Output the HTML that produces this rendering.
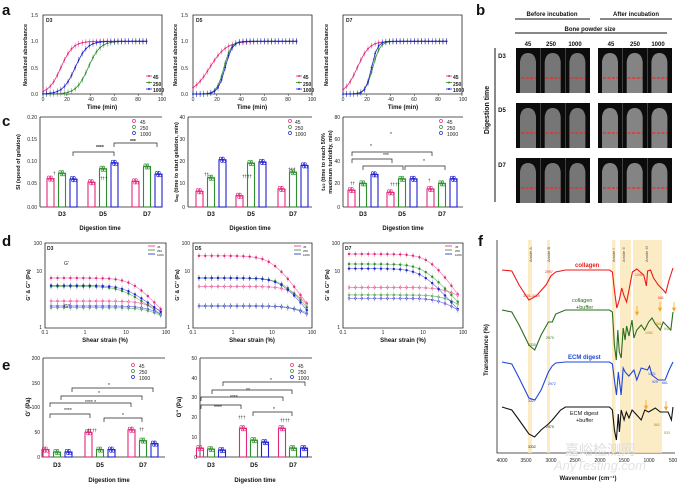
<!DOCTYPE html>
<html><head><meta charset="utf-8"><style>
html,body{margin:0;padding:0;background:#fff}
svg{display:block;font-family:"Liberation Sans","Noto Sans CJK SC",sans-serif}
.t{font-size:5px;fill:#222}
.ax{font-size:6px;font-weight:bold;fill:#111}
.L{font-size:15px;font-weight:bold;fill:#111}
</style></head><body>
<svg id="s" width="680" height="489" viewBox="0 0 680 489" xmlns="http://www.w3.org/2000/svg">
<g id="g"></g>
<text class="L" x="2" y="15">a</text>
<text class="L" x="476" y="15">b</text>
<text class="L" x="2" y="126">c</text>
<text class="L" x="2" y="246">d</text>
<text class="L" x="2" y="370">e</text>
<text class="L" x="478" y="246">f</text>

<g class="t">
<text x="46" y="22" font-weight="bold">D3</text><text x="196" y="22" font-weight="bold">D5</text><text x="346" y="22" font-weight="bold">D7</text>
<text x="38" y="17" text-anchor="end">1.5</text><text x="38" y="43" text-anchor="end">1.0</text><text x="38" y="70" text-anchor="end">0.5</text><text x="38" y="96" text-anchor="end">0.0</text>
<text x="188" y="17" text-anchor="end">1.5</text><text x="188" y="43" text-anchor="end">1.0</text><text x="188" y="70" text-anchor="end">0.5</text><text x="188" y="96" text-anchor="end">0.0</text>
<text x="43" y="101" text-anchor="middle">0</text><text x="67" y="101" text-anchor="middle">20</text><text x="91" y="101" text-anchor="middle">40</text><text x="114" y="101" text-anchor="middle">60</text><text x="138" y="101" text-anchor="middle">80</text><text x="162" y="101" text-anchor="middle">100</text>
<text x="193" y="101" text-anchor="middle">0</text><text x="217" y="101" text-anchor="middle">20</text><text x="241" y="101" text-anchor="middle">40</text><text x="264" y="101" text-anchor="middle">60</text><text x="288" y="101" text-anchor="middle">80</text><text x="312" y="101" text-anchor="middle">100</text>
<text x="343" y="101" text-anchor="middle">0</text><text x="367" y="101" text-anchor="middle">20</text><text x="391" y="101" text-anchor="middle">40</text><text x="414" y="101" text-anchor="middle">60</text><text x="438" y="101" text-anchor="middle">80</text><text x="463" y="101" text-anchor="middle">100</text>
</g>
<g class="ax">
<text x="102" y="109" text-anchor="middle">Time (min)</text><text x="252" y="109" text-anchor="middle">Time (min)</text><text x="403" y="109" text-anchor="middle">Time (min)</text>
<text transform="translate(27,55) rotate(-90)" text-anchor="middle" font-size="5.5">Normalized absorbance</text>
<text transform="translate(177,55) rotate(-90)" text-anchor="middle" font-size="5.5">Normalized absorbance</text>
<text transform="translate(328,55) rotate(-90)" text-anchor="middle" font-size="5.5">Normalized absorbance</text>
</g>
<g class="t" font-weight="bold">
<text x="153" y="79">45</text><text x="153" y="86">250</text><text x="153" y="92">1000</text>
<text x="303" y="79">45</text><text x="303" y="86">250</text><text x="303" y="92">1000</text>
<text x="453" y="79">45</text><text x="453" y="86">250</text><text x="453" y="92">1000</text>
</g>

<g class="ax" font-size="6.5">
<text x="552" y="16" text-anchor="middle">Before incubation</text>
<text x="636" y="16" text-anchor="middle">After incubation</text>
<text x="590" y="31" text-anchor="middle">Bone powder size</text>
<text x="528" y="46" text-anchor="middle">45</text><text x="551" y="46" text-anchor="middle">250</text><text x="575" y="46" text-anchor="middle">1000</text>
<text x="611" y="46" text-anchor="middle">45</text><text x="635" y="46" text-anchor="middle">250</text><text x="658" y="46" text-anchor="middle">1000</text>
<text x="502" y="58" text-anchor="middle">D3</text><text x="502" y="112" text-anchor="middle">D5</text><text x="502" y="167" text-anchor="middle">D7</text>
<text transform="translate(489,110) rotate(-90)" text-anchor="middle" font-size="7">Digestion time</text>
</g>
<g stroke="#111" stroke-width="1">
<line x1="515" y1="19" x2="590" y2="19"/><line x1="600" y1="19" x2="672" y2="19"/>
<line x1="515" y1="33" x2="667" y2="33"/><line x1="495" y1="48" x2="495" y2="202"/>
</g>

<g class="t">
<text x="37" y="119" text-anchor="end">0.20</text><text x="37" y="141" text-anchor="end">0.15</text><text x="37" y="163" text-anchor="end">0.10</text><text x="37" y="185" text-anchor="end">0.05</text><text x="37" y="209" text-anchor="end">0.00</text>
<text x="185" y="119" text-anchor="end">40</text><text x="185" y="141" text-anchor="end">30</text><text x="185" y="163" text-anchor="end">20</text><text x="185" y="185" text-anchor="end">10</text><text x="185" y="209" text-anchor="end">0</text>
<text x="340" y="119" text-anchor="end">80</text><text x="340" y="141" text-anchor="end">60</text><text x="340" y="163" text-anchor="end">40</text><text x="340" y="185" text-anchor="end">20</text><text x="340" y="209" text-anchor="end">0</text>
</g>
<g class="ax">
<text x="62" y="216" text-anchor="middle">D3</text><text x="103" y="216" text-anchor="middle">D5</text><text x="147" y="216" text-anchor="middle">D7</text>
<text x="211" y="216" text-anchor="middle">D3</text><text x="251" y="216" text-anchor="middle">D5</text><text x="293" y="216" text-anchor="middle">D7</text>
<text x="363" y="216" text-anchor="middle">D3</text><text x="402" y="216" text-anchor="middle">D5</text><text x="442" y="216" text-anchor="middle">D7</text>
<text x="100" y="230" text-anchor="middle">Digestion time</text><text x="250" y="230" text-anchor="middle">Digestion time</text><text x="403" y="230" text-anchor="middle">Digestion time</text>
<text transform="translate(20,162) rotate(-90)" text-anchor="middle" font-size="5.5">SI (speed of gelation)</text>
<text transform="translate(178,162) rotate(-90)" text-anchor="middle" font-size="5.5">t<tspan font-size="4">lag</tspan> (time to start gelation, min)</text>
<text transform="translate(325,162) rotate(-90)" text-anchor="middle" font-size="5.5">t<tspan font-size="4">1/2</tspan> (time to reach 50%</text>
<text transform="translate(332,162) rotate(-90)" text-anchor="middle" font-size="5.5">maximum turbidity, min)</text>
</g>
<g class="t">
<text x="140" y="124">45</text><text x="140" y="130">250</text><text x="140" y="136">1000</text>
<text x="295" y="124">45</text><text x="295" y="130">250</text><text x="295" y="136">1000</text>
<text x="447" y="124">45</text><text x="447" y="130">250</text><text x="447" y="136">1000</text>
<text x="96" y="149" font-weight="bold">****</text><text x="130" y="143" font-weight="bold">***</text>
<text x="390" y="136">*</text><text x="370" y="148">*</text><text x="383" y="157">***</text><text x="423" y="163">*</text>
<text x="100" y="180" font-size="4.5">†††</text><text x="53" y="175" font-size="4.5">†</text>
<text x="204" y="176" font-size="4.5">††</text><text x="242" y="178" font-size="4.5">††††</text><text x="288" y="171" font-size="4.5">†††</text>
<text x="350" y="185" font-size="4.5">††</text><text x="390" y="186" font-size="4.5">††††</text><text x="428" y="182" font-size="4.5">†</text>
</g>
<g stroke="#222" stroke-width="0.7" fill="none">
<path d="M73 156 V152 H114 V156"/><path d="M114 147 V143 H157 V147"/>
<path d="M352 156 V152 H432 V156"/><path d="M352 163 V159 H392 V163"/><path d="M363 170 V166 H403 V170"/><path d="M405 170 V166 H445 V170"/>
</g>

<g class="t">
<text x="42" y="245" text-anchor="end">100</text><text x="42" y="273" text-anchor="end">10</text><text x="42" y="329" text-anchor="end">1</text>
<text x="190" y="245" text-anchor="end">100</text><text x="190" y="273" text-anchor="end">10</text><text x="190" y="329" text-anchor="end">1</text>
<text x="340" y="245" text-anchor="end">100</text><text x="340" y="273" text-anchor="end">10</text><text x="340" y="329" text-anchor="end">1</text>
<text x="45" y="334" text-anchor="middle">0.1</text><text x="85" y="334" text-anchor="middle">1</text><text x="126" y="334" text-anchor="middle">10</text><text x="166" y="334" text-anchor="middle">100</text>
<text x="193" y="334" text-anchor="middle">0.1</text><text x="233" y="334" text-anchor="middle">1</text><text x="272" y="334" text-anchor="middle">10</text><text x="312" y="334" text-anchor="middle">100</text>
<text x="343" y="334" text-anchor="middle">0.1</text><text x="383" y="334" text-anchor="middle">1</text><text x="423" y="334" text-anchor="middle">10</text><text x="463" y="334" text-anchor="middle">100</text>
<text x="47" y="250" font-weight="bold">D3</text><text x="195" y="250" font-weight="bold">D5</text><text x="345" y="250" font-weight="bold">D7</text>
<text x="64" y="265">G'</text><text x="64" y="308">G''</text>
<text x="157" y="248" font-size="3">45</text><text x="157" y="252" font-size="3">250</text><text x="157" y="256" font-size="3">1000</text>
<text x="303" y="248" font-size="3">45</text><text x="303" y="252" font-size="3">250</text><text x="303" y="256" font-size="3">1000</text>
<text x="455" y="248" font-size="3">45</text><text x="455" y="252" font-size="3">250</text><text x="455" y="256" font-size="3">1000</text>
</g>
<g class="ax">
<text x="105" y="342" text-anchor="middle">Shear strain (%)</text><text x="252" y="342" text-anchor="middle">Shear strain (%)</text><text x="403" y="342" text-anchor="middle">Shear strain (%)</text>
<text transform="translate(30,285) rotate(-90)" text-anchor="middle" font-size="5.5">G' &amp; G'' (Pa)</text>
<text transform="translate(179,285) rotate(-90)" text-anchor="middle" font-size="5.5">G' &amp; G'' (Pa)</text>
<text transform="translate(329,285) rotate(-90)" text-anchor="middle" font-size="5.5">G' &amp; G'' (Pa)</text>
</g>

<g class="t">
<text x="40" y="360" text-anchor="end">200</text><text x="40" y="385" text-anchor="end">150</text><text x="40" y="409" text-anchor="end">100</text><text x="40" y="434" text-anchor="end">50</text><text x="40" y="459" text-anchor="end">0</text>
<text x="197" y="360" text-anchor="end">50</text><text x="197" y="380" text-anchor="end">40</text><text x="197" y="399" text-anchor="end">30</text><text x="197" y="419" text-anchor="end">20</text><text x="197" y="439" text-anchor="end">10</text><text x="197" y="459" text-anchor="end">0</text>
<text x="139" y="368">45</text><text x="139" y="374">250</text><text x="139" y="380">1000</text>
<text x="298" y="368">45</text><text x="298" y="374">250</text><text x="298" y="380">1000</text>
<text x="108" y="387">*</text><text x="98" y="395">*</text><text x="85" y="404">**** *</text><text x="64" y="412">****</text><text x="122" y="417">*</text>
<text x="270" y="382">*</text><text x="246" y="392">**</text><text x="230" y="399">****</text><text x="214" y="409">****</text><text x="273" y="411">*</text>
<text x="87" y="432" font-size="4.5">††††</text><text x="139" y="431" font-size="4.5">††</text>
<text x="238" y="419" font-size="4.5">†††</text><text x="280" y="422" font-size="4.5">††††</text>
</g>
<g stroke="#222" stroke-width="0.7" fill="none">
<path d="M72 392 V388 H153 V392"/><path d="M61 400 V396 H142 V400"/><path d="M50 407 V403 H131 V407"/><path d="M50 418 V414 H90 V418"/><path d="M104 422 V418 H142 V422"/>
<path d="M223 386 V382 H305 V386"/><path d="M212 394 V390 H292 V394"/><path d="M201 401 V397 H283 V401"/><path d="M201 409 V405 H241 V409"/><path d="M253 416 V412 H292 V416"/>
</g>
<g class="ax">
<text x="57" y="467" text-anchor="middle">D3</text><text x="100" y="467" text-anchor="middle">D5</text><text x="143" y="467" text-anchor="middle">D7</text>
<text x="211" y="467" text-anchor="middle">D3</text><text x="254" y="467" text-anchor="middle">D5</text><text x="293" y="467" text-anchor="middle">D7</text>
<text x="109" y="482" text-anchor="middle">Digestion time</text><text x="255" y="482" text-anchor="middle">Digestion time</text>
<text transform="translate(30,407) rotate(-90)" text-anchor="middle" font-size="6">G' (Pa)</text>
<text transform="translate(181,407) rotate(-90)" text-anchor="middle" font-size="6">G'' (Pa)</text>
</g>

<g class="t">
<text x="502" y="462" text-anchor="middle">4000</text><text x="526" y="462" text-anchor="middle">3500</text><text x="551" y="462" text-anchor="middle">3000</text><text x="575" y="462" text-anchor="middle">2500</text><text x="600" y="462" text-anchor="middle">2000</text><text x="624" y="462" text-anchor="middle">1500</text><text x="649" y="462" text-anchor="middle">1000</text><text x="673" y="462" text-anchor="middle">500</text>
</g>
<text class="ax" x="588" y="480" text-anchor="middle">Wavenumber (cm⁻¹)</text>
<text class="ax" transform="translate(488,350) rotate(-90)" text-anchor="middle" font-size="5.5">Transmittance (%)</text>
<g font-size="4" fill="#555">
<text transform="translate(532,262) rotate(-90)">Amide A</text><text transform="translate(550,262) rotate(-90)">Amide B</text>
<text transform="translate(615,262) rotate(-90)">Amide I</text><text transform="translate(625,262) rotate(-90)">Amide II</text><text transform="translate(648,262) rotate(-90)">Amide III</text>
</g>
<g font-weight="bold" font-size="6">
<text x="575" y="267" fill="#ee1c1c">collagen</text>
<text x="572" y="302" fill="#2a6e1c" font-weight="normal" font-size="5.5">collagen</text><text x="576" y="309" fill="#2a6e1c" font-weight="normal" font-size="5.5">+buffer</text>
<text x="568" y="359" fill="#1f48d8">ECM digest</text>
<text x="570" y="415" fill="#111" font-weight="normal" font-size="5.5">ECM digest</text><text x="576" y="422" fill="#111" font-weight="normal" font-size="5.5">+buffer</text>
</g>
<g font-size="3.5">
<text x="523" y="297" fill="#ee1c1c">3401-3419</text><text x="545" y="273" fill="#ee1c1c">2997</text>
<text x="528" y="346" fill="#2a6e1c">3330</text><text x="546" y="339" fill="#2a6e1c">2970</text>
<text x="528" y="402" fill="#1f48d8">3327</text><text x="548" y="385" fill="#1f48d8">2972</text>
<text x="528" y="448" fill="#222">3332</text><text x="546" y="428" fill="#222">2970</text>
<text x="658" y="299" fill="#ee1c1c">661</text><text x="635" y="276" fill="#ee1c1c">1240</text>
<text x="645" y="334" fill="#b8860b">1082</text><text x="656" y="325" fill="#b8860b">661</text><text x="664" y="330" fill="#b8860b">545</text>
<text x="648" y="375" fill="#1f48d8">1021</text><text x="652" y="383" fill="#1f48d8">929</text><text x="662" y="384" fill="#1f48d8">661</text>
<text x="654" y="426" fill="#b8860b">862</text><text x="664" y="434" fill="#b8860b">533</text>
</g>
<text x="600" y="455" font-size="14" fill="#ddd" text-anchor="middle">嘉峪检测网</text>
<text x="600" y="470" font-size="13" fill="#e4e4e4" font-style="italic" text-anchor="middle">AnyTesting.com</text>
</svg>
<script>
var G=document.getElementById('g'),NS='http://www.w3.org/2000/svg';
function E(t,a,p){var e=document.createElementNS(NS,t);for(var k in a)e.setAttribute(k,a[k]);(p||G).appendChild(e);return e;}
var P='#e3287c',GR='#2f8f2f',B='#2020d0';
function box(x0,y0,x1,y1){E('path',{d:'M'+x0+' '+y0+'V'+y1+'H'+x1+'V'+y0+'Z',fill:'none',stroke:'#222','stroke-width':0.8});}
[[43],[193],[343]].forEach(function(v,i){
 var x0=v[0],x1=x0+119,y0=94,y1=15;box(x0,y1,x1,y0);
 for(var k=0;k<=5;k++)E('line',{x1:x0+k*23.8,y1:y0,x2:x0+k*23.8,y2:y0+2,stroke:'#222','stroke-width':0.5});
 var mids=[[15,38,27],[14,26,27],[12,25,24]][i],ks=[[5,5,5],[7,3,3],[5,3,2.5]][i];
 [P,GR,B].forEach(function(c,j){
  var d='';for(var t=0;t<=88;t+=3){var y=1/(1+Math.exp(-(t-mids[j])/ks[j]));var X=x0+t*1.19,Y=y0-y*52.7;d+=(t?'L':'M')+X.toFixed(1)+' '+Y.toFixed(1);
   E('line',{x1:X,y1:Y-3,x2:X,y2:Y+3,stroke:c,'stroke-width':0.4});E('circle',{cx:X,cy:Y,r:0.9,fill:c});}
  E('path',{d:d,fill:'none',stroke:c,'stroke-width':0.8});
  E('line',{x1:x1-16,y1:76+j*6.5,x2:x1-10,y2:76+j*6.5,stroke:c,'stroke-width':0.8});E('circle',{cx:x1-13,cy:76+j*6.5,r:1,fill:c});
 });
});
[516,598].forEach(function(gx,gi){[48,103,158].forEach(function(gy,ri){
 E('rect',{x:gx,y:gy,width:74,height:45,fill:'#0c0c0c'},G);
 for(var k=0;k<3;k++){var cx=gx+12+k*24.7;
  if(k)E('line',{x1:gx+k*24.7,y1:gy,x2:gx+k*24.7,y2:gy+45,stroke:'#777','stroke-width':0.5});
  E('path',{d:'M'+(cx-8)+' '+(gy+45)+'V'+(gy+14)+'Q'+(cx-7)+' '+(gy+5)+' '+cx+' '+(gy+5)+'Q'+(cx+7)+' '+(gy+5)+' '+(cx+8)+' '+(gy+14)+'V'+(gy+45)+'Z',fill:gi?'#9a9a9a':'#8a8a8a',opacity:0.85});
  E('line',{x1:cx-7,y1:gy+30,x2:cx+8,y2:gy+30,stroke:'#ff2020','stroke-width':1.2,'stroke-dasharray':'3 1.5'});
 }});});
function bars(x0,x1,y0,y1,max,cent,sp,vals){
 E('line',{x1:x0,y1:y1,x2:x0,y2:y0,stroke:'#222','stroke-width':0.8});E('line',{x1:x0,y1:y0,x2:x1,y2:y0,stroke:'#222','stroke-width':0.8});
 E('line',{x1:x0,y1:y1,x2:x1,y2:y1,stroke:'#222','stroke-width':0.8});
 cent.forEach(function(c,g){[P,GR,B].forEach(function(col,j){
  var v=vals[g][j],h=v/max*(y0-y1),x=c+(j-1)*sp;
  E('rect',{x:x-3.5,y:y0-h,width:7,height:h,fill:'none',stroke:col,'stroke-width':1.1});
  E('line',{x1:x,y1:y0-h-3,x2:x,y2:y0-h+3,stroke:col,'stroke-width':0.6});
  for(var q=0;q<4;q++)E('circle',{cx:x-2+q*1.3,cy:y0-h+(q%2?1:-1)*1.5,r:1.2,fill:'none',stroke:col,'stroke-width':0.6});
 });});
}
bars(40,162,207,117,0.2,[62,103,147],11.5,[[.063,.075,.062],[.055,.085,.098],[.057,.09,.073]]);
bars(188,312,207,117,40,[211,251,293],11.5,[[7,13,21],[5,19.5,20],[8,15.5,18.5]]);
bars(343,463,207,117,80,[363,402,442],11.5,[[15,21,29],[13,25,25],[16,21,25]]);
bars(43,165,457,358,200,[57,100,143],11.5,[[15,10,10],[50,15,15],[55,33,27]]);
bars(200,312,457,358,50,[211,254,293],11,[[4.5,4,3.5],[14.5,8.5,7.5],[14.5,4.5,4.5]]);
[[134,121],[290,121],[441,121],[133,365],[292,365]].forEach(function(p){[P,GR,B].forEach(function(c,j){E('circle',{cx:p[0],cy:p[1]+j*6,r:1.5,fill:'none',stroke:c,'stroke-width':0.7});});});
// panel d: [plateau, critical strain, end value]
var DP=[
 {gp:[[15,15,2],[9.5,8,1.7],[10,10,1.9]],gpp:[[4.3,35,2.1],[3,40,1.7],[3.3,40,1.8]]},
 {gp:[[50,10,2.5],[15,20,2.1],[15,18,1.8]],gpp:[[9.5,40,2.5],[3.3,40,2],[3.3,40,1.8]]},
 {gp:[[55,15,4],[32,10,3],[25,9,2]],gpp:[[9,40,5],[6,40,3],[5,30,2.2]]}];
[[45,166],[193,312],[343,463]].forEach(function(b,i){
 var x0=b[0],x1=b[1],y0=328,y1=243;box(x0,y1,x1,y0);
 var lx=function(s){return x0+(Math.log10(s)+1)/3*(x1-x0)},ly=function(v){return y0-Math.log10(v)/2*(y0-y1)};
 [P,GR,B].forEach(function(c,j){
  [[DP[i].gp[j],1],[DP[i].gpp[j],0]].forEach(function(s){
   var s0=s[0][0],sc=s[0][1],en=s[0][2],a=Math.log(s0/en)/Math.log(100/sc+0.3);
   var d='';for(var e=-0.85;e<=2.001;e+=0.16){var st=Math.pow(10,e);var v=s0*Math.pow(1+Math.pow(st/sc,2),-a/2);
    var X=lx(st),Y=ly(v);d+=(d?'L':'M')+X.toFixed(1)+' '+Y.toFixed(1);
    E('line',{x1:X,y1:Y-3,x2:X,y2:Y+3,stroke:c,'stroke-width':0.4,opacity:0.7});
    E('circle',{cx:X,cy:Y,r:1,fill:s[1]?c:'#fff',stroke:c,'stroke-width':0.5});}
   E('path',{d:d,fill:'none',stroke:c,'stroke-width':0.7,opacity:0.6});
  });
  E('line',{x1:x1-18,y1:246+j*4,x2:x1-11,y2:246+j*4,stroke:c,'stroke-width':0.8});
 });
});
E('path',{d:'M497 240V453H675',fill:'none',stroke:'#222','stroke-width':0.8});
[[528,4],[547,3],[612,3.5],[620,11],[633,29]].forEach(function(b){E('rect',{x:b[0],y:240,width:b[1],height:213,fill:'#fbe7b8',opacity:0.8});});
function wx(w){return 502+(4000-w)/3500*171;}
function spec(pts,c){var d='';pts.forEach(function(p,i){d+=(i?'L':'M')+wx(p[0]).toFixed(1)+' '+p[1];});E('path',{d:d,fill:'none',stroke:c,'stroke-width':1.1});}
spec([[4000,270],[3800,271],[3650,285],[3450,300],[3300,296],[3100,285],[3000,276],[2900,272],[2700,270],[1800,270],[1740,272],[1700,290],[1650,308],[1600,300],[1550,288],[1500,296],[1450,302],[1400,290],[1330,272],[1240,269],[1100,275],[1045,286],[1020,271],[960,270],[900,278],[800,285],[700,290],[650,293],[580,280],[500,268]],'#f01818');
spec([[4000,310],[3800,312],[3650,325],[3450,345],[3330,350],[3200,335],[3050,322],[2970,322],[2900,314],[2700,310],[1800,310],[1740,312],[1700,345],[1660,360],[1630,330],[1600,352],[1560,358],[1520,328],[1480,340],[1450,326],[1400,336],[1340,320],[1300,338],[1240,330],[1150,325],[1082,330],[1000,322],[930,318],[861,324],[760,330],[700,322],[545,330],[500,312]],'#2a6e1c');
spec([[4000,362],[3800,364],[3650,378],[3450,398],[3327,400],[3200,390],[3050,372],[2972,366],[2900,363],[2700,362],[1800,362],[1740,364],[1700,380],[1657,395],[1620,372],[1563,395],[1520,368],[1480,372],[1405,376],[1300,370],[1240,380],[1150,368],[1021,370],[980,366],[929,375],[800,380],[661,380],[580,370],[500,362]],'#1f48d8');
spec([[4000,407],[3800,410],[3650,420],[3450,434],[3332,437],[3200,430],[3050,424],[2970,420],[2800,410],[2700,407],[1800,407],[1740,410],[1700,430],[1659,440],[1620,414],[1597,432],[1560,410],[1500,420],[1456,412],[1401,418],[1337,410],[1240,415],[1150,420],[1078,410],[1000,412],[862,408],[760,412],[600,412],[533,420],[500,407]],'#111');
[[647,318],[670,314],[684,314],[656,412],[676,413]].forEach(function(p){E('path',{d:'M'+(p[0]-10)+' '+(p[1]-12)+'v6l-1.5 0 1.5 3 1.5-3 -1.5 0',fill:'#f5a623',stroke:'#f5a623','stroke-width':0.8});});
</script>
</body></html>
